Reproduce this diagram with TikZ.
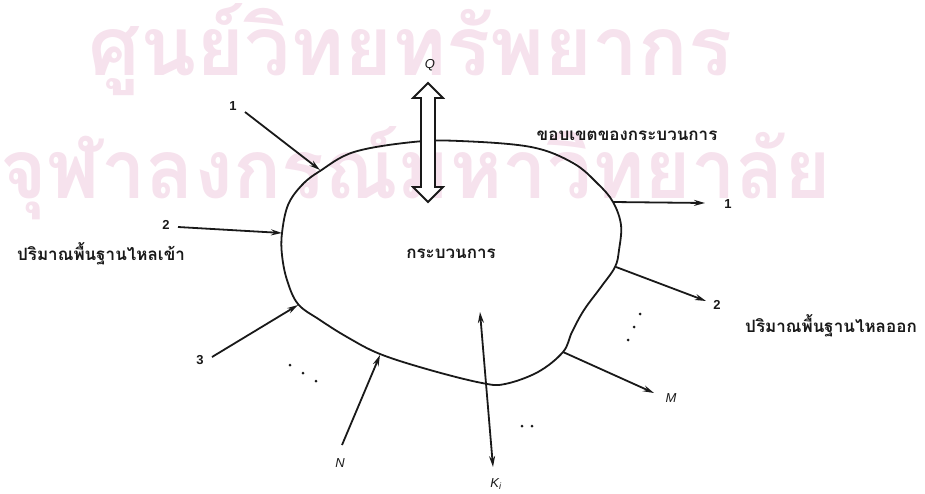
\documentclass[tikz,border=0pt]{standalone}
\usepackage{fontspec}
\setmainfont{Liberation Sans}
\newfontfamily\thai[Script=Thai]{Loma}
\usetikzlibrary{arrows.meta}
\definecolor{ink}{RGB}{25,25,25}
\definecolor{wm}{RGB}{246,226,237}
\begin{document}
\begin{tikzpicture}[x=1pt,y=-1pt,
  line/.style={draw=ink,line width=1.8pt},
  flow/.style={line,-{Stealth[length=11pt,width=6pt]}},
  both/.style={line,{Stealth[length=11pt,width=6pt]}-{Stealth[length=11pt,width=6pt]}},
  num/.style={font=\bfseries\fontsize{13}{13}\selectfont,text=ink,inner sep=0},
  var/.style={font=\itshape\fontsize{13}{13}\selectfont,text=ink,inner sep=0},
  thaitxt/.style={font=\thai\bfseries\fontsize{17}{19}\selectfont,text=ink,inner sep=0},
  wmark/.style={font=\thai\bfseries\fontsize{82}{82}\selectfont,text=wm,inner sep=0},
  dot/.style={fill=ink,circle,inner sep=0,minimum size=3pt}]
\useasboundingbox (0,0) rectangle (925,493);
% watermark
\node[wmark,anchor=base west] (wm1) at (88,75) {ศูนย์วิทยทรัพยากร};
\node[wmark,anchor=base west,xscale=0.97] (wm2) at (0,198) {จุฬาลงกรณ์มหาวิทยาลัย};
% process boundary
\draw[line] plot[smooth cycle,tension=0.6] coordinates {
 (320,171) (354,152) (413,142) (460,141) (531,147) (573,163) (598,184) (613,202)
 (621,225) (619,250) (615,267) (601,287) (584,310) (572,332) (563,352) (538,372)
 (505,384) (482,383) (430,370) (380,354) (347,337) (320,320) (298,304) (287,280)
 (282,255) (282,233) (288,205) (302,185)};
% heat double arrow
\draw[line,fill=white] (428,83) -- (443,98) -- (435,98) -- (435,187) -- (443,187)
  -- (428,202) -- (413,187) -- (421,187) -- (421,98) -- (413,98) -- cycle;
\node[var] (Q) at (430,65) {Q};
% coordinates
\coordinate (in1s) at (245,112); \coordinate (in1e) at (320,170);
\coordinate (in2s) at (178,227); \coordinate (in2e) at (282,233);
\coordinate (in3s) at (212,357); \coordinate (in3e) at (298,305);
\coordinate (inNs) at (342,445); \coordinate (inNe) at (380,355);
\coordinate (out1s) at (613,202); \coordinate (out1e) at (705,203);
\coordinate (out2s) at (616,267); \coordinate (out2e) at (706,301);
\coordinate (outMs) at (563,352); \coordinate (outMe) at (654,393);
\coordinate (kt) at (480,312); \coordinate (kb) at (493,467);
% flows
\draw[flow] (in1s) -- (in1e);
\draw[flow] (in2s) -- (in2e);
\draw[flow] (in3s) -- (in3e);
\draw[flow] (inNs) -- (inNe);
\draw[flow] (out1s) -- (out1e);
\draw[flow] (out2s) -- (out2e);
\draw[flow] (outMs) -- (outMe);
\draw[both] (kt) -- (kb);
% labels
\node[num] (l1) at (233,106) {1};
\node[num] (l2) at (166,225) {2};
\node[num] (l3) at (200,360) {3};
\node[var] (lN) at (340,463) {N};
\node[var] (lK) at (496,484) {K\textsubscript{i}};
\node[var] (lM) at (671,398) {M};
\node[num] (r1) at (728,204) {1};
\node[num] (r2) at (717,305) {2};
\node[thaitxt] (tb) at (627,136) {ขอบเขตของกระบวนการ};
\node[thaitxt] (tin) at (101,254) {ปริมาณพื้นฐานไหลเข้า};
\node[thaitxt] (tp) at (451,254) {กระบวนการ};
\node[thaitxt] (tout) at (831,326) {ปริมาณพื้นฐานไหลออก};
% dots
\node[dot] (d1) at (290,365) {}; \node[dot] (d2) at (303,373) {}; \node[dot] (d3) at (316,381) {};
\node[dot] (d4) at (640,314) {}; \node[dot] (d5) at (634,327) {}; \node[dot] (d6) at (628,340) {};
\node[dot] (d7) at (522,426) {}; \node[dot] (d8) at (532,426) {};
\end{tikzpicture}
\end{document}
